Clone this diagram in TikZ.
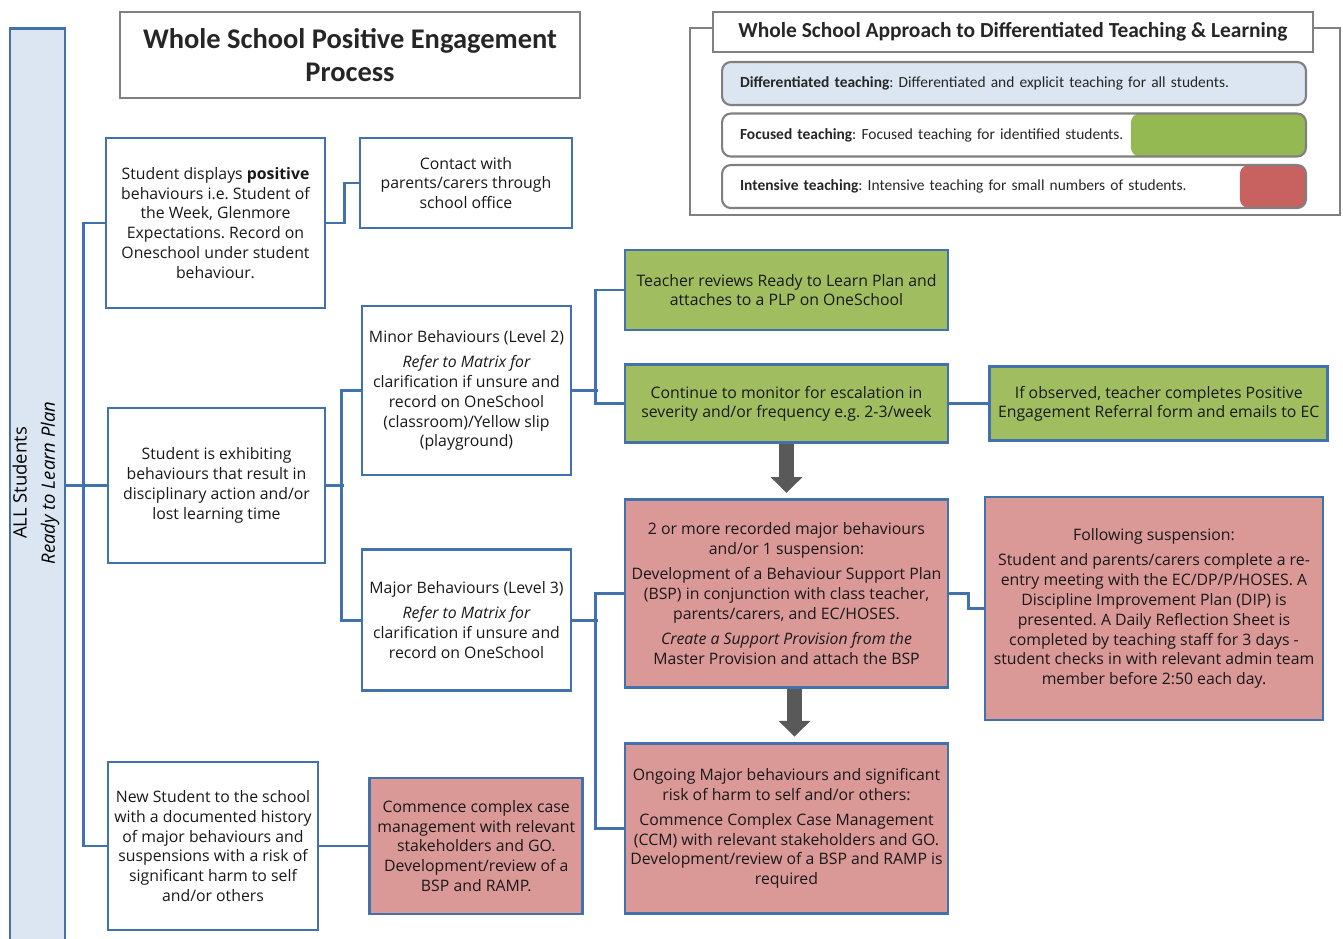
\documentclass[tikz,border=0pt]{standalone}
\usepackage{fontspec}
\setmainfont{Open Sans}
\newfontfamily\headfont{Carlito}
\frenchspacing
\usetikzlibrary{positioning, arrows.meta, calc}

\definecolor{lineblue}{RGB}{66,114,172}
\definecolor{barblue}{RGB}{220,230,242}
\definecolor{focusgreen}{RGB}{160,190,96}
\definecolor{intensered}{RGB}{218,152,150}
\definecolor{legendgreen}{RGB}{148,184,82}
\definecolor{legendred}{RGB}{200,98,96}
\definecolor{framegray}{RGB}{128,128,128}
\definecolor{arrowgray}{RGB}{89,89,89}

\begin{document}
\begin{tikzpicture}[
    x=0.02cm, y=-0.02cm,
    box/.style={draw=lineblue, line width=1.6pt, align=center, fill=white, text=black!90, inner sep=2pt, font=\fontsize{9}{11.3}\selectfont},
    greenbox/.style={box, fill=focusgreen},
    redbox/.style={box, fill=intensered},
    link/.style={draw=lineblue, line width=1.6pt},
    bigarrow/.style={-{Triangle[width=17.6pt, length=9pt]}, line width=8.5pt, draw=arrowgray, shorten >=3pt},
    headbox/.style={draw=framegray, line width=1.4pt, fill=white, align=center, text=black!85},
    tier/.style={draw=framegray, line width=1.2pt, rounded corners=5pt, minimum width=11.68cm, minimum height=0.86cm, text width=10.96cm, inner xsep=0.36cm, align=left, text=black!85, font=\headfont\fontsize{8.8}{10}\selectfont},
    tiermark/.style 2 args={path picture={\fill[#1] ([xshift=-#2]path picture bounding box.north east) rectangle (path picture bounding box.south east);}}
]
\useasboundingbox (0,0) rectangle (1343,938);

% Side bar
\node[draw=lineblue, line width=1.6pt, fill=barblue, minimum width=1.1cm, minimum height=18.4cm] (bar) at (37.5,488) {};
\node[rotate=90, align=center, font=\fontsize{10.5}{16}\selectfont] (barlabel) at (36,483) {ALL Students\\\itshape Ready to Learn Plan};

% Title
\node[headbox, minimum width=9.2cm, minimum height=1.72cm, font=\headfont\bfseries\fontsize{16.2}{19}\selectfont] (title) at (350,55) {Whole School Positive Engagement\\Process};

% Legend
\draw[framegray, line width=1.4pt] (690,28) rectangle (1340,215);
\node[headbox, minimum width=12cm, minimum height=0.8cm, font=\headfont\bfseries\fontsize{12.2}{14}\selectfont] (legend) at (1013,32) {Whole School Approach to Differentiated Teaching \& Learning};
\node[tier, fill=barblue] (tier1) at (1014,83.5) {\textbf{Differentiated teaching}: Differentiated and explicit teaching for all students.};
\node[tier, fill=white, tiermark={legendgreen}{3.5cm}] (tier2) at (1014,135) {\textbf{Focused teaching}: Focused teaching for identified students.};
\node[tier, fill=white, tiermark={legendred}{1.32cm}] (tier3) at (1014,186.5) {\textbf{Intensive teaching}: Intensive teaching for small numbers of students.};

% First column
\node[box, minimum width=4.38cm, minimum height=3.4cm] (positive) at (215.5,223) {Student displays \textbf{positive}\\behaviours i.e. Student of\\the Week, Glenmore\\Expectations. Record on\\Oneschool under student\\behaviour.};
\node[box, minimum width=4.34cm, minimum height=3.1cm] (exhibit) at (216.5,485.5) {Student is exhibiting\\behaviours that result in\\disciplinary action and/or\\lost learning time};
\node[box, minimum width=4.2cm, minimum height=3.36cm] (newstudent) at (213,846) {New Student to the school\\with a documented history\\of major behaviours and\\suspensions with a risk of\\significant harm to self\\and/or others};

% Second column
\node[box, minimum width=4.24cm, minimum height=1.8cm] (contact) at (466,183) {Contact with\\parents/carers through\\school office};
\node[box, minimum width=4.18cm, minimum height=3.38cm] (minor) at (466.5,390.5) {Minor Behaviours (Level 2)\\[3pt]\itshape Refer to Matrix for\\clarification if unsure and\\record on OneSchool\\(classroom)/Yellow slip\\(playground)};
\node[box, minimum width=4.18cm, minimum height=2.82cm, below=1.44cm of minor] (major) {Major Behaviours (Level 3)\\[3pt]\itshape Refer to Matrix for\\clarification if unsure and\\record on OneSchool};
\node[redbox, minimum width=4.26cm, minimum height=2.72cm, right=0.98cm of newstudent] (complex) {Commence complex case\\management with relevant\\stakeholders and GO.\\Development/review of a\\BSP and RAMP.};

% Third column
\node[greenbox, minimum width=6.46cm, minimum height=1.6cm] (review) at (786.5,290) {Teacher reviews Ready to Learn Plan and\\attaches to a PLP on OneSchool};
\node[greenbox, minimum width=6.46cm, minimum height=1.56cm, below=0.64cm of review] (monitor) {Continue to monitor for escalation in\\severity and/or frequency e.g. 2-3/week};
\node[redbox, minimum width=6.46cm, minimum height=3.76cm, below=1.08cm of monitor] (bsp) {2 or more recorded major behaviours\\and/or 1 suspension:\\[3pt]Development of a Behaviour Support Plan\\(BSP) in conjunction with class teacher,\\parents/carers, and EC/HOSES.\\[3pt]\itshape Create a Support Provision from the\\Master Provision and attach the BSP};
\node[redbox, minimum width=6.46cm, minimum height=3.4cm, below=1.06cm of bsp] (ccm) {Ongoing Major behaviours and significant\\risk of harm to self and/or others:\\[3pt]Commence Complex Case Management\\(CCM) with relevant stakeholders and GO.\\Development/review of a BSP and RAMP is\\required};

% Fourth column
\node[greenbox, minimum width=6.76cm, minimum height=1.48cm, right=0.78cm of monitor] (observed) {If observed, teacher completes Positive\\Engagement Referral form and emails to EC};
\node[redbox, minimum width=6.76cm, minimum height=4.46cm] (suspension) at (1154,608.5) {Following suspension:\\[3pt]Student and parents/carers complete a re-\\entry meeting with the EC/DP/P/HOSES. A\\Discipline Improvement Plan (DIP) is\\presented. A Daily Reflection Sheet is\\completed by teaching staff for 3 days -\\student checks in with relevant admin team\\member before 2:50 each day.};

% Connections
\draw[link] (bar.east |- exhibit.west) -- (exhibit.west);
\draw[link] (positive.west) -- ++(-21,0) |- (newstudent.west);
\draw[link] (positive.east) -- ++(18,0) |- (contact.west);
\draw[link] (exhibit.east) -- ++(18,0);
\draw[link] (minor.west) -- ++(-19,0) |- (major.west);
\draw[link] (minor.east) -- ++(26,0);
\draw[link] (review.west) -- ++(-28,0) |- (monitor.west);
\draw[link] (monitor) -- (observed);
\draw[link] (major.east) -- ++(26,0);
\draw[link] (bsp.west) -- ++(-28,0) |- (ccm.west);
\draw[link] (bsp.east) -- ++(19,0) |- (suspension.west);
\draw[link] (newstudent) -- (complex);

% Escalation arrows
\draw[bigarrow] (monitor) -- (bsp);
\draw[bigarrow] ($(bsp.south)+(8,0)$) -- ($(ccm.north)+(8,0)$);

\end{tikzpicture}
\end{document}
